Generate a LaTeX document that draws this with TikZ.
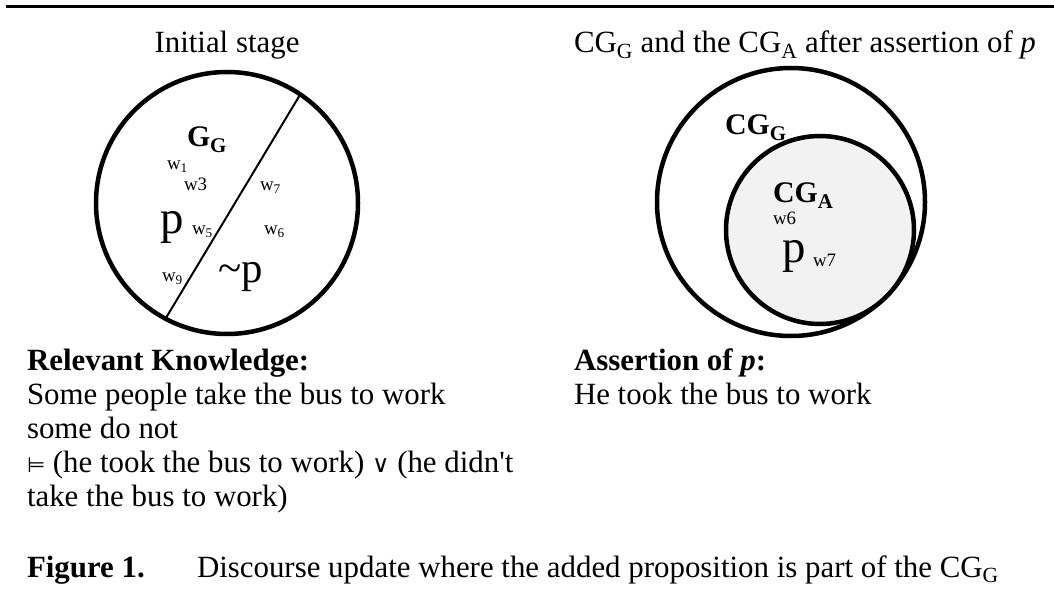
\documentclass[tikz,border=0pt]{standalone}
\usepackage{fontspec}
\setmainfont{Liberation Serif}[Ligatures=TeXOff]
\newfontfamily\djv{DejaVu Sans}
\definecolor{pfill}{HTML}{F2F2F2}
\begin{document}
\begin{tikzpicture}[x=1bp,y=-1bp,
  txt/.style={inner sep=0pt,outer sep=0pt,anchor=base west,font=\fontsize{31}{35.5}\selectfont},
  ctxt/.style={txt,anchor=base},
  world/.style={inner sep=0pt,outer sep=0pt,anchor=base west,font=\fontsize{19}{19}\selectfont},
  bigp/.style={inner sep=0pt,outer sep=0pt,anchor=base west,font=\fontsize{47}{47}\selectfont},
  lbl/.style={inner sep=0pt,outer sep=0pt,anchor=base west,font=\bfseries\fontsize{30}{30}\selectfont},
  ring/.style={draw,line width=4.5bp,circle,inner sep=0pt,outer sep=0pt}]
\useasboundingbox (0,0) rectangle (1054,593);
% top rule
\coordinate (ruleL) at (6,7);
\coordinate (ruleR) at (1054,7);
\draw[line width=3bp] (ruleL) -- (ruleR);
% titles
\node[ctxt] (t1) at (227,53) {Initial stage};
\node[txt] (t2) at (574,53) {CG\textsubscript{G} and the CG\textsubscript{A} after assertion of \textit{p}};
% left circle
\node[ring,minimum size=262bp] (cgL) at (227,203) {};
\draw[line width=2bp] (cgL.56) -- (cgL.242.5);
\node[lbl] (gg) at (187,147) {G\textsubscript{G}};
\node[world] (w1) at (167,170) {w\textsubscript{1}};
\node[world] (w3) at (184,191) {w3};
\node[world] (w7) at (260,191) {w\textsubscript{7}};
\node[bigp] (pL) at (160,234) {p};
\node[world] (w5) at (192,235) {w\textsubscript{5}};
\node[world] (w6) at (264,235) {w\textsubscript{6}};
\node[world] (w9) at (162,282) {w\textsubscript{9}};
\node[bigp,font=\fontsize{43}{43}\selectfont] (np) at (218,283) {\char"7E p};
% right circles
\node[ring,minimum size=268bp] (cgG) at (791,202) {};
\node[lbl] (cgGl) at (725,135) {CG\textsubscript{G}};
\node[ring,fill=pfill,minimum size=188bp] (cgA) at (820,230) {};
\node[lbl] (cgAl) at (773,203) {CG\textsubscript{A}};
\node[world] (rw6) at (773,225) {w6};
\node[bigp] (pR) at (782,263) {p};
\node[world] (rw7) at (813,267) {w7};
% left text block
\node[txt] (k1) at (27,370) {\textbf{Relevant Knowledge:}};
\node[txt] (k2) at (27,404) {Some people take the bus to work};
\node[txt] (k3) at (27,438) {some do not};
\node[txt] (k4) at (27,472) {{\djv\fontsize{21}{21}\selectfont ⊨} (he took the bus to work) {\djv\fontsize{24}{24}\selectfont ∨} (he didn't};
\node[txt] (k5) at (27,506) {take the bus to work)};
% right text block
\node[txt] (a1) at (574,370) {\textbf{Assertion of \textit{p}:}};
\node[txt] (a2) at (574,404) {He took the bus to work};
% caption
\node[txt] (fig) at (27,577) {\textbf{Figure 1.}};
\node[txt] (cap) at (197,577) {Discourse update where the added proposition is part of the CG\textsubscript{G}};
\end{tikzpicture}
\end{document}
